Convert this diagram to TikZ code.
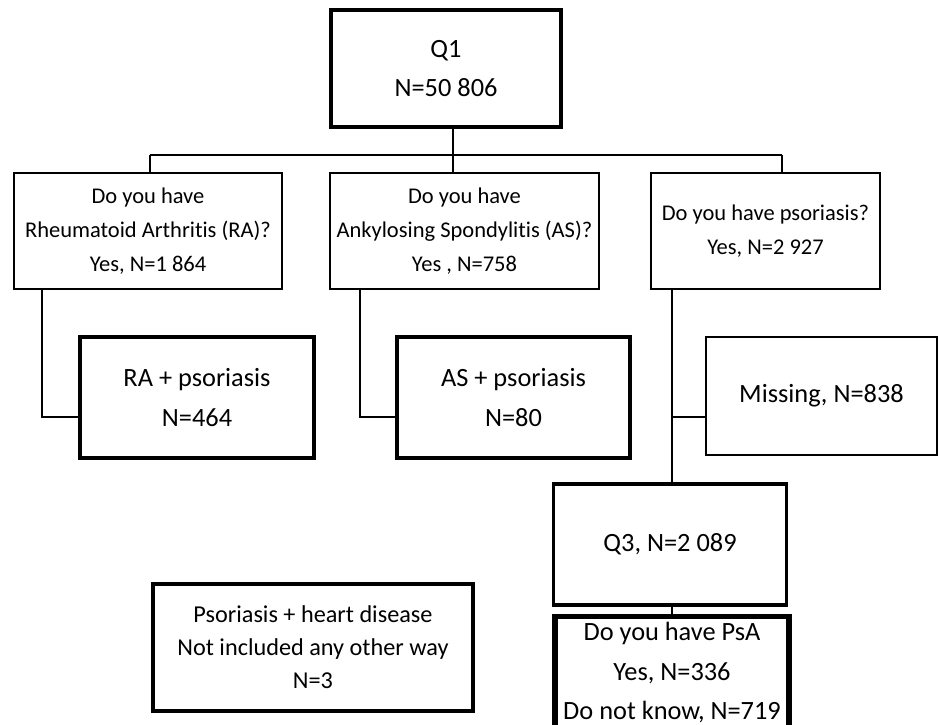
\documentclass[tikz,border=0pt]{standalone}
\usepackage{fontspec}
\setmainfont{Carlito}[Ligatures=NoCommon]
\begin{document}
\begin{tikzpicture}[x=0.02cm,y=-0.02cm,
    box/.style={draw=black,line width=1.1pt,align=center,inner sep=0pt,
      font=\fontsize{12.8}{19.3}\selectfont},
    bigbox/.style={box,line width=2.6pt,font=\fontsize{15}{22.7}\selectfont},
    link/.style={draw=black,line width=1.1pt}]
  \useasboundingbox (0,0) rectangle (940,724);
  % boxes
  \node[bigbox,line width=2.5pt,minimum width=4.6cm,minimum height=2.34cm] (q1) at (446,68.5) {Q1\\N=50 806};
  \node[box,minimum width=5.36cm,minimum height=2.32cm] (ra) at (148,231) {Do you have\\Rheumatoid Arthritis (RA)?\\Yes, N=1 864};
  \node[box,minimum width=5.38cm,minimum height=2.32cm] (as) at (464.5,231) {Do you have\\Ankylosing Spondylitis (AS)?\\Yes , N=758};
  \node[box,minimum width=4.58cm,minimum height=2.32cm] (pso) at (765.5,231) {Do you have psoriasis?\\Yes, N=2 927};
  \node[bigbox,minimum width=4.68cm,minimum height=2.42cm] (rap) at (197,397.5) {RA + psoriasis\\N=464};
  \node[bigbox,minimum width=4.66cm,minimum height=2.42cm] (asp) at (513.5,397.5) {AS + psoriasis\\N=80};
  \node[box,font=\fontsize{15}{22.7}\selectfont,minimum width=4.62cm,minimum height=2.36cm] (miss) at (821.5,396) {Missing, N=838};
  \node[box,line width=1.9pt,font=\fontsize{15}{22.7}\selectfont,minimum width=4.66cm,minimum height=2.42cm] (q3) at (670,544.5) {Q3, N=2 089};
  \node[bigbox,line width=3pt,minimum width=4.68cm,minimum height=2.24cm,anchor=north] (psa) at (672,614) {Do you have PsA\\Yes, N=336\\Do not know, N=719};
  \node[bigbox,font=\fontsize{13.8}{18.7}\selectfont,minimum width=6.4cm,minimum height=2.54cm] (heart) at (313,647.5) {Psoriasis + heart disease\\Not included any other way\\N=3};
  % junctions
  \coordinate (jq1) at (453,155);
  \coordinate (jra) at (150,155);
  \coordinate (jpso) at (782,155);
  \coordinate (kra) at (42,417);
  \coordinate (kas) at (360,417);
  \coordinate (kpso) at (672,417);
  % links
  \path[link] (q1.south -| jq1) -- (jq1);
  \path[link] (jra) -- (jpso);
  \path[link] (jra) -- (ra.north -| jra);
  \path[link] (jq1) -- (as.north -| jq1);
  \path[link] (jpso) -- (pso.north -| jpso);
  \path[link] (ra.south -| kra) -- (kra) -- (rap.west |- kra);
  \path[link] (as.south -| kas) -- (kas) -- (asp.west |- kas);
  \path[link] (pso.south -| kpso) -- (q3.north -| kpso);
  \path[link] (kpso) -- (miss.west |- kpso);
  \path[link] (q3.south -| kpso) -- (psa.north -| kpso);
\end{tikzpicture}
\end{document}
